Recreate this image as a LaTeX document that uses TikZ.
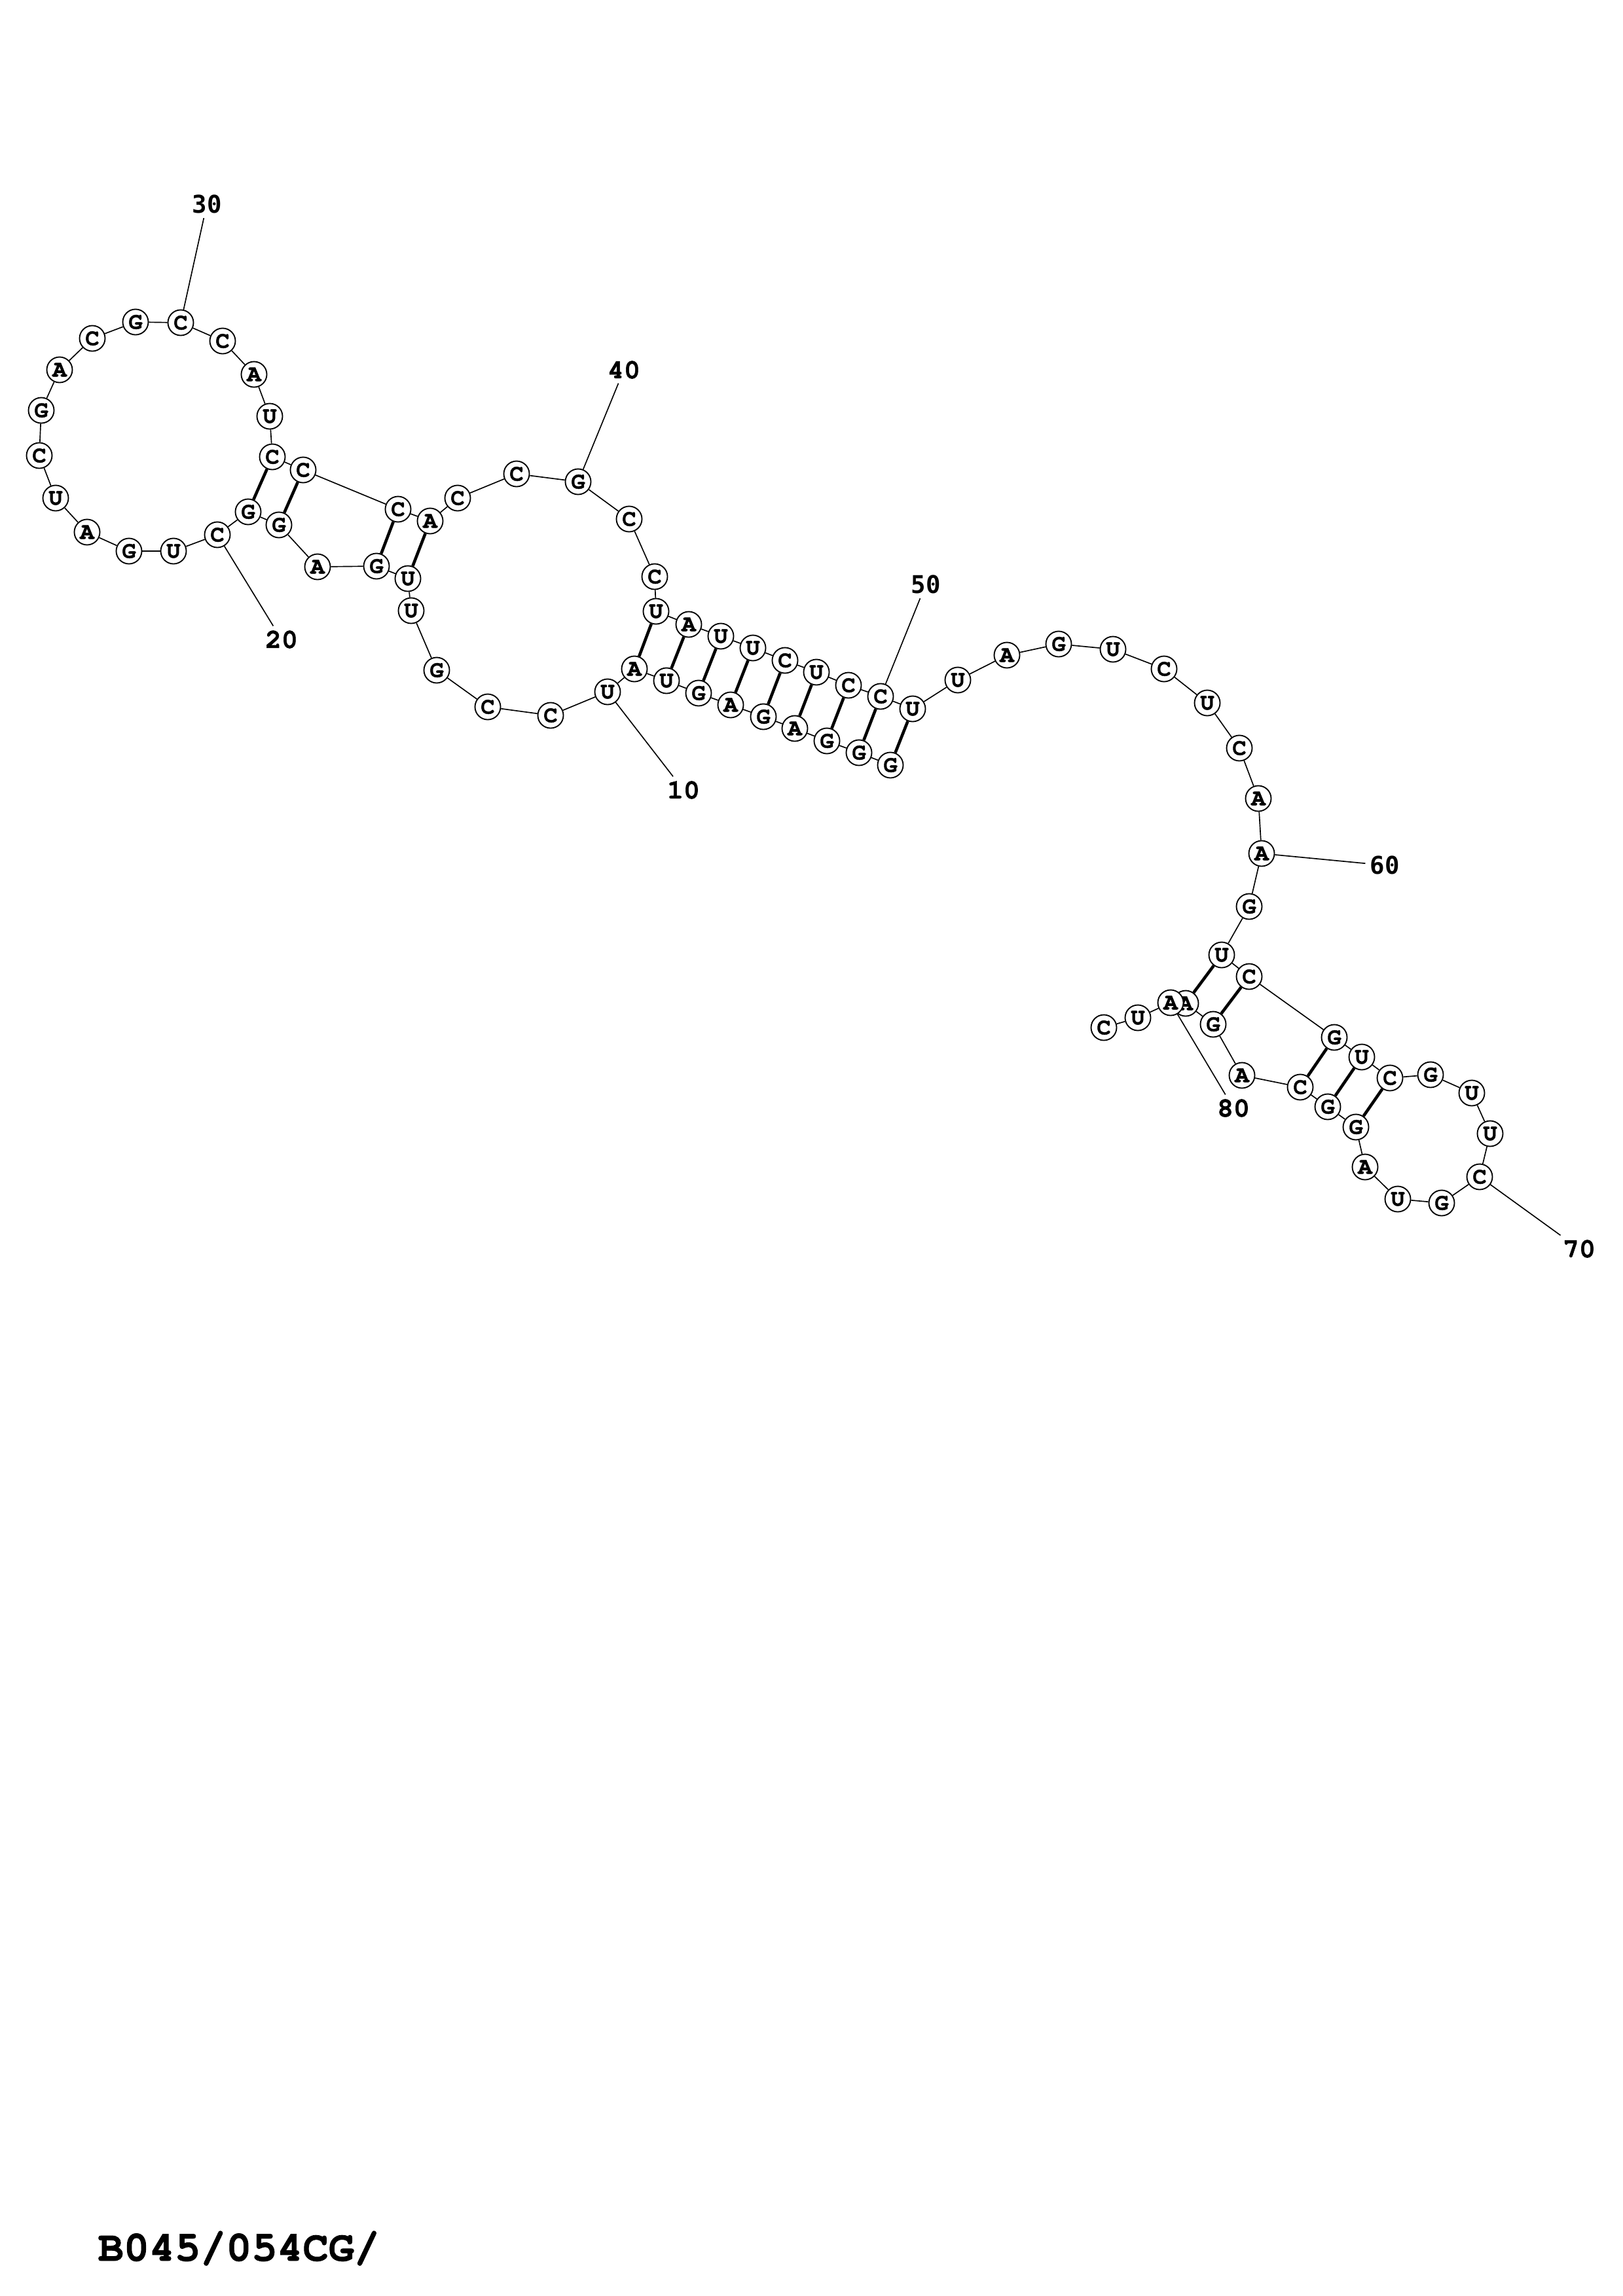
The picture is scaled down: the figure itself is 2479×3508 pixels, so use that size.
\documentclass[tikz,border=0pt]{standalone}
\usepackage{fontspec}
\setmonofont{TeX Gyre Cursor}[BoldFeatures={FakeBold=1.3}]
\newfontfamily\sansnum{DejaVu Sans Mono}
\usetikzlibrary{backgrounds}
\begin{document}
\begin{tikzpicture}[x=0.08467mm, y=-0.08467mm,
  base/.style={circle, draw, fill=white, line width=0.45pt, minimum size=9.4pt, inner sep=0pt,
    font=\ttfamily\bfseries\fontsize{8.6}{8.6}\selectfont},
  num/.style={inner sep=1.5pt, font=\ttfamily\bfseries\fontsize{10}{10}\selectfont},
  numsf/.style={inner sep=1.5pt, font=\sansnum\bfseries\fontsize{9}{9}\selectfont}]

\useasboundingbox (0,0) rectangle (2479,3508);

\node[base] (n1) at (1360,1169) {G};
\node[base] (n2) at (1312,1150) {G};
\node[base] (n3) at (1263,1132) {G};
\node[base] (n4) at (1214,1113) {A};
\node[base] (n5) at (1166,1095) {G};
\node[base] (n6) at (1116,1077) {A};
\node[base] (n7) at (1067,1059) {G};
\node[base] (n8) at (1018,1040) {U};
\node[base] (n9) at (969,1022) {A};
\node[base] (n10) at (928,1057) {U};
\node[base] (n11) at (841,1093) {C};
\node[base] (n12) at (745,1080) {C};
\node[base] (n13) at (667,1024) {G};
\node[base] (n14) at (628,933) {U};
\node[base] (n15) at (623,884) {U};
\node[base] (n16) at (575,865) {G};
\node[base] (n17) at (485,866) {A};
\node[base] (n18) at (426,802) {G};
\node[base] (n19) at (379,782) {G};
\node[base] (n20) at (332,817) {C};
\node[base] (n21) at (265,842) {U};
\node[base] (n22) at (197,842) {G};
\node[base] (n23) at (133,813) {A};
\node[base] (n24) at (85,761) {U};
\node[base] (n25) at (60,696) {C};
\node[base] (n26) at (63,627) {G};
\node[base] (n27) at (91,565) {A};
\node[base] (n28) at (141,517) {C};
\node[base] (n29) at (207,492) {G};
\node[base] (n30) at (276,493) {C};
\node[base] (n31) at (340,521) {C};
\node[base] (n32) at (388,572) {A};
\node[base] (n33) at (412,636) {U};
\node[base] (n34) at (416,698) {C};
\node[base] (n35) at (463,718) {C};
\node[base] (n36) at (608,778) {C};
\node[base] (n37) at (657,796) {A};
\node[base] (n38) at (699,761) {C};
\node[base] (n39) at (789,724) {C};
\node[base] (n40) at (883,736) {G};
\node[base] (n41) at (961,793) {C};
\node[base] (n42) at (1000,881) {C};
\node[base] (n43) at (1002,934) {U};
\node[base] (n44) at (1052,954) {A};
\node[base] (n45) at (1101,972) {U};
\node[base] (n46) at (1150,990) {U};
\node[base] (n47) at (1199,1009) {C};
\node[base] (n48) at (1247,1027) {U};
\node[base] (n49) at (1296,1047) {C};
\node[base] (n50) at (1345,1064) {C};
\node[base] (n51) at (1394,1083) {U};
\node[base] (n52) at (1463,1039) {U};
\node[base] (n53) at (1538,1001) {A};
\node[base] (n54) at (1617,984) {G};
\node[base] (n55) at (1700,992) {U};
\node[base] (n56) at (1778,1022) {C};
\node[base] (n57) at (1844,1074) {U};
\node[base] (n58) at (1893,1143) {C};
\node[base] (n59) at (1922,1220) {A};
\node[base] (n60) at (1927,1304) {A};
\node[base] (n61) at (1908,1385) {G};
\node[base] (n62) at (1866,1459) {U};
\node[base] (n63) at (1908,1492) {C};
\node[base] (n64) at (2038,1585) {G};
\node[base] (n65) at (2080,1615) {U};
\node[base] (n66) at (2123,1647) {C};
\node[base] (n67) at (2185,1642) {G};
\node[base] (n68) at (2248,1670) {U};
\node[base] (n69) at (2276,1732) {U};
\node[base] (n70) at (2260,1798) {C};
\node[base] (n71) at (2202,1838) {G};
\node[base] (n72) at (2135,1832) {U};
\node[base] (n73) at (2085,1783) {A};
\node[base] (n74) at (2071,1722) {G};
\node[base] (n75) at (2028,1691) {G};
\node[base] (n76) at (1986,1661) {C};
\node[base] (n77) at (1897,1643) {A};
\node[base] (n78) at (1853,1565) {G};
\node[base] (n79) at (1811,1533) {A};
\node[base] (n80) at (1788,1532) {A};
\node[base] (n81) at (1738,1555) {U};
\node[base] (n82) at (1686,1570) {C};

\node[num] (l10) at (1044,1207) {10};
\node[num] (l20) at (430,977) {20};
\node[numsf] (l30) at (316,312) {30};
\node[num] (l40) at (953,565) {40};
\node[numsf] (l50) at (1414,893) {50};
\node[numsf] (l60) at (2115,1322) {60};
\node[num] (l70) at (2412,1908) {70};
\node[num] (l80) at (1884,1693) {80};

\node[anchor=base west, inner sep=0pt, font=\ttfamily\bfseries\fontsize{15.7}{16}\selectfont] (title) at (149,3454) {B045/054CG/};

\begin{scope}[on background layer, line width=0.45pt]
\fill[white] (0,0) rectangle (2479,3508);
\foreach \i [evaluate=\i as \j using int(\i+1)] in {1,...,81}
\draw (n\i)--(n\j);
\foreach \a/\b in {1/51,2/50,3/49,4/48,5/47,6/46,7/45,8/44,9/43,15/37,16/36,18/35,19/34,62/79,63/78,64/76,65/75,66/74}
\draw[line width=1.1pt] (n\a)--(n\b);
\foreach \k in {10,20,...,80}
\draw (n\k)--(l\k);
\end{scope}
\end{tikzpicture}
\end{document}
